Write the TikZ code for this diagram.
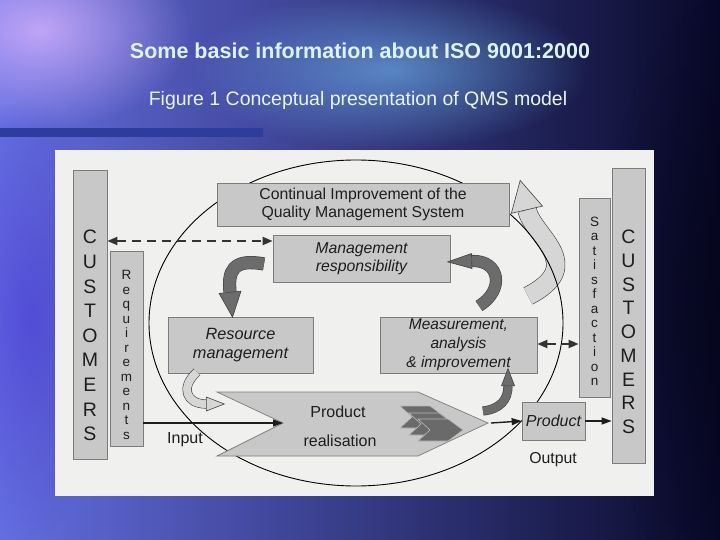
\documentclass[tikz,border=0pt]{standalone}
\usepackage{fontspec}
\setmainfont{Liberation Sans}
\usetikzlibrary{shapes.geometric, arrows.meta, fadings}

\tikzfading[name=glowfade, inner color=transparent!0, outer color=transparent!100]

\definecolor{boxgray}{HTML}{C8C8C8}
\definecolor{boxline}{HTML}{7C7C7C}
\definecolor{darkarrow}{HTML}{6C6C6C}
\definecolor{lightarrow}{HTML}{D6D6D6}
\definecolor{panel}{HTML}{F0F0EE}
\definecolor{ink}{HTML}{1E1E1E}
\definecolor{titlec}{HTML}{DDF2FF}
\definecolor{subc}{HTML}{EAF2FF}
\definecolor{barc}{HTML}{2E3C9E}
\definecolor{bgleft}{RGB}{100,110,225}
\definecolor{bgmid}{RGB}{45,100,228}
\definecolor{bgright}{RGB}{8,8,40}
\definecolor{glowpink}{RGB}{215,180,255}
\definecolor{glowcyan}{RGB}{120,200,255}
\definecolor{glowviolet}{RGB}{70,50,210}
\definecolor{glowdark}{RGB}{5,5,25}
\definecolor{chevc}{HTML}{6A6A6A}

\newcommand\bandarrow[6]{%
  \draw[draw=black!75, line width=0.6pt, double=#2, double distance=#3] #4;
  \path #4 node[pos=1, sloped, allow upside down, isosceles triangle,
    isosceles triangle stretches, inner sep=0pt, minimum width=#5,
    minimum height=#6, anchor=west, fill=#2, draw=black!75, line width=0.6pt] (#1) {};
}

\begin{document}
\begin{tikzpicture}[x=1pt, y=-1pt,
  gbox/.style={draw=boxline, fill=boxgray, line width=0.7pt, inner sep=0pt},
  btext/.style={text=ink, align=center, inner sep=0pt, font=\fontsize{15.8}{18.5}\selectfont},
  bitext/.style={text=ink, align=center, inner sep=0pt, font=\fontsize{15.8}{18.5}\selectfont\itshape},
  vbig/.style={text=ink, align=center, inner sep=0pt},
  arr/.style={-{Triangle[length=10pt,width=7pt]}, line width=1.4pt, draw=ink},
  dasharr/.style={{Triangle[length=10pt,width=8pt]}-{Triangle[length=10pt,width=8pt]}, line width=2pt, dash pattern=on 9pt off 6pt, draw=black!80},
  chev/.style={fill=chevc, draw=gray!55, line width=0.6pt}
]
\useasboundingbox (0,0) rectangle (720,540);

% background
\shade[left color=bgleft, middle color=bgmid, right color=bgright] (0,0) rectangle (720,540);
\fill[fill=glowpink, path fading=glowfade, opacity=0.8] (40,30) ellipse [x radius=150pt, y radius=100pt];
\fill[fill=glowcyan, path fading=glowfade, opacity=0.55] (390,70) ellipse [x radius=200pt, y radius=80pt];
\fill[fill=glowviolet, path fading=glowfade, opacity=0.5] (30,320) ellipse [x radius=90pt, y radius=220pt];
\fill[fill=glowdark, path fading=glowfade, opacity=0.7] (720,300) ellipse [x radius=120pt, y radius=300pt];

% bar and titles
\fill[barc] (0,128) rectangle (263,137);
\node[text=titlec, font=\bfseries\fontsize{21.5}{24}\selectfont] (title) at (360,51) {Some basic information about ISO 9001:2000};
\node[text=subc, font=\fontsize{19.5}{22}\selectfont] (subtitle) at (358,100) {Figure 1 Conceptual presentation of QMS model};

% panel
\fill[panel] (55,150) rectangle (654,496);

% big light arrow (under ellipse)
\bandarrow{carrow}{lightarrow}{18pt}{(528,296) .. controls (588,265) and (533,236) .. (527,210)}{32pt}{30pt}

% ellipse
\draw[black, line width=0.9pt] (356,323) ellipse [x radius=207pt, y radius=163pt];

% boxes
\node[gbox, minimum width=34pt, minimum height=289pt] (custL) at (90,314.5) {};
\node[gbox, minimum width=33pt, minimum height=195pt] (req) at (126.5,348.5) {};
\node[gbox, minimum width=33pt, minimum height=295pt] (custR) at (628.5,315.5) {};
\node[gbox, minimum width=31pt, minimum height=199pt] (sat) at (594.5,297.5) {};

\node[vbig, font=\fontsize{19.5}{24.6}\selectfont] (custLt) at (90,335.5) {C\\U\\S\\T\\O\\M\\E\\R\\S};
\node[vbig, font=\fontsize{13.5}{14.5}\selectfont] (reqt) at (126.5,355) {R\\e\\q\\u\\i\\r\\e\\m\\e\\n\\t\\s};
\node[vbig, font=\fontsize{13.5}{14.5}\selectfont] (satt) at (594.5,301.5) {S\\a\\t\\i\\s\\f\\a\\c\\t\\i\\o\\n};
\node[vbig, font=\fontsize{19.5}{23.75}\selectfont] (custRt) at (628.5,332) {C\\U\\S\\T\\O\\M\\E\\R\\S};

\node[gbox, btext, minimum width=292pt, minimum height=43pt] (ci) at (363,204.5) {Continual Improvement of the\\Quality Management System};
\node[gbox, bitext, minimum width=177pt, minimum height=47pt] (mr) at (361.5,258.5) {Management\\responsibility};
\node[gbox, bitext, minimum width=145pt, minimum height=56pt, font=\fontsize{16.3}{19}\selectfont\itshape] (rm) at (240.5,345) {Resource\\management};
\node[gbox, bitext, minimum width=157pt, minimum height=56pt, font=\fontsize{15.5}{19}\selectfont\itshape] (ma) at (458.5,345) {Measurement,\\analysis\\\& improvement};
\node[gbox, bitext, minimum width=63pt, minimum height=38pt, font=\fontsize{16}{18}\selectfont\itshape] (prod) at (553.5,421) {Product};

% product realisation
\coordinate (prn) at (283,423);
\coordinate (prp) at (488,423);
\filldraw[draw=boxline, fill=boxgray, line width=0.7pt] (217,392) -- (418,392) -- (prp) -- (418,456) -- (217,456) -- (prn) -- cycle;
\foreach \dx/\dy in {0/0, 9/7, 18/13}
  \filldraw[chev, shift={(\dx,\dy)}] (400,406) -- (430,406) -- (445,417) -- (430,428) -- (400,428) -- (412,417) -- cycle;
\node[btext, font=\fontsize{16}{18}\selectfont] (prt1) at (338,412) {Product};
\node[btext, font=\fontsize{16}{18}\selectfont] (prt2) at (340,441) {realisation};

% curved arrows
\bandarrow{aarrow}{darkarrow}{12pt}{(264,264) .. controls (232,258) and (228,272) .. (230,292)}{22pt}{25pt}
\bandarrow{barrow}{darkarrow}{11pt}{(479,306) .. controls (505,290) and (500,260) .. (472,261)}{15pt}{24pt}
\bandarrow{darrow}{lightarrow}{8pt}{(197,372) .. controls (180,387) and (186,404) .. (206,404)}{14pt}{18pt}
\bandarrow{earrow}{darkarrow}{8pt}{(483,411) .. controls (500,409) and (508,400) .. (508,386)}{13pt}{17pt}

% connectors
\coordinate (d1) at (0,241);
\coordinate (d2) at (0,344);
\draw[dasharr] (custL.east |- d1) -- (mr.west |- d1);
\draw[dasharr] (ma.east |- d2) -- (sat.west |- d2);
\draw[arr] (req.east |- prn) -- (prn);
\draw[arr] ([xshift=3pt]prp) -- (prod.west);
\draw[arr] (prod.east) -- (prod.east -| custR.west);

\node[btext, font=\fontsize{16}{18}\selectfont] (input) at (185,440) {Input};
\node[btext, font=\fontsize{15.8}{18}\selectfont] (output) at (553,460) {Output};
\end{tikzpicture}
\end{document}
